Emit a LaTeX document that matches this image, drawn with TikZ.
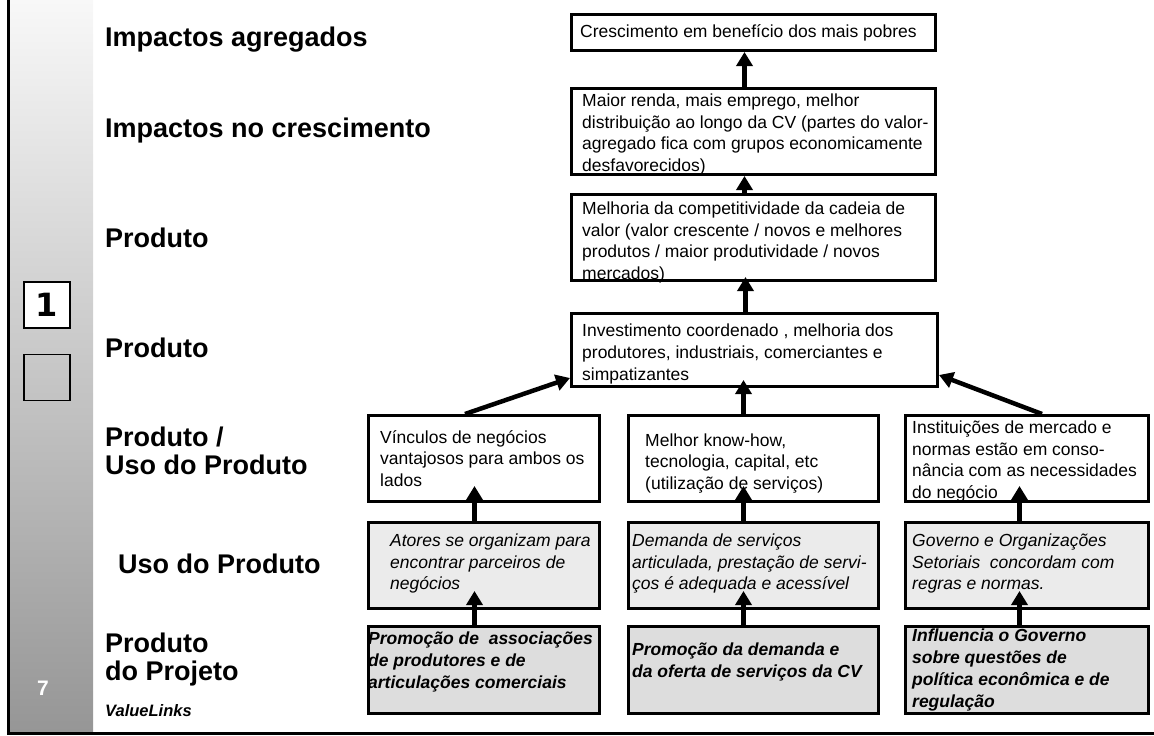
\documentclass[tikz,border=0pt]{standalone}
\usepackage{fontspec}
\setmainfont{Liberation Sans}
\newfontfamily\onefont{DejaVu Sans}
\usetikzlibrary{arrows.meta}

\definecolor{sidetop}{RGB}{248,248,248}
\definecolor{sidebot}{RGB}{150,150,150}
\definecolor{uselight}{RGB}{235,235,235}
\definecolor{projdark}{RGB}{221,221,221}

\tikzset{
  box/.style={draw, line width=3pt, anchor=north west, inner sep=0pt},
  txt/.style={anchor=west, inner sep=0pt, align=left, font=\fontsize{17.5}{21.8}\selectfont},
  level/.style={inner sep=0pt, align=left, font=\fontsize{27}{28}\selectfont\bfseries},
  up/.style={line width=4.5pt, -{Triangle[length=14pt,width=16pt]}},
}

\begin{document}
\begin{tikzpicture}[x=1pt,y=-1pt]
\useasboundingbox (0,0) rectangle (1154,736);

% side bar and frame
\shade[top color=sidetop, bottom color=sidebot] (10,0) rectangle (93,732);
\draw[line width=3pt] (8.5,0) -- (8.5,733.5) -- (1154,733.5);
\node[draw, line width=1.2pt, fill=white, minimum size=46, inner sep=0pt, font=\onefont\bfseries\fontsize{32}{32}\selectfont] (one) at (47,305) {1};
\node[draw, line width=1.2pt, minimum size=46, inner sep=0pt] (blank) at (47,377.5) {};
\node[text=white, inner sep=0pt, font=\bfseries\fontsize{21}{21}\selectfont] (pg) at (43,688) {7};

% levels
\node[level, anchor=base west] (l1) at (105,46) {Impactos agregados};
\node[level, anchor=base west] (l2) at (105,137) {Impactos no crescimento};
\node[level, anchor=base west] (l3) at (105,247) {Produto};
\node[level, anchor=base west] (l4) at (105,357) {Produto};
\node[level, anchor=north west] (l5) at (105,427) {Produto /\\Uso do Produto};
\node[level, anchor=base west] (l6) at (118,573) {Uso do Produto};
\node[level, anchor=north west] (l7) at (105,633) {Produto\\do Projeto};
\node[anchor=base west, inner sep=0pt, font=\bfseries\itshape\fontsize{16.5}{16.5}\selectfont] (vl) at (105,716) {ValueLinks};

% upper chain
\node[box, minimum width=364, minimum height=36] (a) at (570,13) {};
\node[txt] (ta) at ([xshift=10pt]a.west) {Crescimento em benefício dos mais pobres};
\node[box, minimum width=364, minimum height=86] (b) at (570,87) {};
\node[txt] (tb) at ([xshift=12pt,yshift=-3pt]b.west) {Maior renda, mais emprego, melhor\\distribuição ao longo da CV (partes do valor-\\agregado fica com grupos economicamente\\desfavorecidos)};
\node[box, minimum width=364, minimum height=86] (c) at (570,193) {};
\node[txt] (tc) at ([xshift=12pt,yshift=-5pt]c.west) {Melhoria da competitividade da cadeia de\\valor (valor crescente / novos e melhores\\produtos / maior produtividade / novos\\mercados)};
\node[box, minimum width=366, minimum height=73] (d) at (570,312) {};
\node[txt] (td) at ([xshift=12pt,yshift=-4pt]d.west) {Investimento coordenado , melhoria dos\\produtores, industriais, comerciantes e\\simpatizantes};

% product / use
\node[box, minimum width=231, minimum height=86] (e) at (367,414) {};
\node[txt] (te) at ([xshift=13pt]e.west) {Vínculos de negócios\\vantajosos para ambos os\\lados};
\node[box, minimum width=250, minimum height=86] (f) at (627,414) {};
\node[txt] (tf) at ([xshift=18pt,yshift=-5pt]f.west) {Melhor know-how,\\tecnologia, capital, etc\\(utilização de serviços)};
\node[box, minimum width=243, minimum height=86] (g) at (904,414) {};
\node[txt] (tg) at ([xshift=8pt,yshift=-3pt]g.west) {Instituições de mercado e\\normas estão em conso-\\nância com as necessidades\\do negócio};

% use of product
\node[box, fill=uselight, minimum width=231, minimum height=86] (h) at (367,521) {};
\node[txt, font=\fontsize{17.5}{21.8}\selectfont\itshape] (th) at ([xshift=23pt,yshift=2pt]h.west) {Atores se organizam para\\encontrar parceiros de\\negócios};
\node[box, fill=uselight, minimum width=250, minimum height=86] (i) at (627,521) {};
\node[txt, font=\fontsize{17.5}{21.8}\selectfont\itshape] (ti) at ([xshift=5pt,yshift=2pt]i.west) {Demanda de serviços\\articulada, prestação de servi-\\ços é adequada e acessível};
\node[box, fill=uselight, minimum width=243, minimum height=86] (j) at (904,521) {};
\node[txt, font=\fontsize{17.5}{21.8}\selectfont\itshape] (tj) at ([xshift=8pt,yshift=2pt]j.west) {Governo e Organizações\\Setoriais~ concordam com\\regras e normas.};

% project output
\node[box, fill=projdark, minimum width=231, minimum height=87] (k) at (367,625) {};
\node[txt, font=\fontsize{17.5}{21.8}\selectfont\bfseries\itshape] (tk) at ([xshift=1pt,yshift=8pt]k.west) {Promoção de~ associações\\de produtores e de\\articulações comerciais};
\node[box, fill=projdark, minimum width=250, minimum height=87] (l) at (627,625) {};
\node[txt, font=\fontsize{17.5}{21.8}\selectfont\bfseries\itshape] (tl) at ([xshift=5pt,yshift=8pt]l.west) {Promoção da demanda e\\da oferta de serviços da CV};
\node[box, fill=projdark, minimum width=243, minimum height=87] (m) at (904,625) {};
\node[txt, font=\fontsize{17.5}{21.8}\selectfont\bfseries\itshape] (tm) at ([xshift=8pt]m.west) {Influencia o Governo\\sobre questões de\\política econômica e de\\regulação};

% arrows
\draw[up] ([xshift=-9pt]b.north) -- ([xshift=-9pt]a.south);
\draw[up] ([xshift=-9pt]c.north) -- ([xshift=-9pt]b.south);
\draw[up, shorten >=-5pt] ([xshift=-9pt]d.north) -- ([xshift=-8pt]c.south);
\draw[up, shorten >=-8pt] ([xshift=-10pt]f.north) -- ([xshift=-11pt]d.south);
\draw[up] ([xshift=-19pt]e.north) -- ([yshift=10pt]d.south west);
\draw[up] ([xshift=15pt]g.north) -- ([yshift=13pt]d.south east);
\draw[up, shorten >=-17pt] ([xshift=-9.5pt]h.north) -- ([xshift=-9.5pt]e.south);
\draw[up, shorten >=-17pt] ([xshift=-10pt]i.north) -- ([xshift=-10pt]f.south);
\draw[up, shorten >=-17pt] ([xshift=-7.5pt]j.north) -- ([xshift=-7.5pt]g.south);
\draw[up, shorten >=-19pt] ([xshift=-9.5pt]k.north) -- ([xshift=-9.5pt]h.south);
\draw[up, shorten >=-19pt] ([xshift=-10pt]l.north) -- ([xshift=-10pt]i.south);
\draw[up, shorten >=-19pt] ([xshift=-7.5pt]m.north) -- ([xshift=-7.5pt]j.south);
\end{tikzpicture}
\end{document}
